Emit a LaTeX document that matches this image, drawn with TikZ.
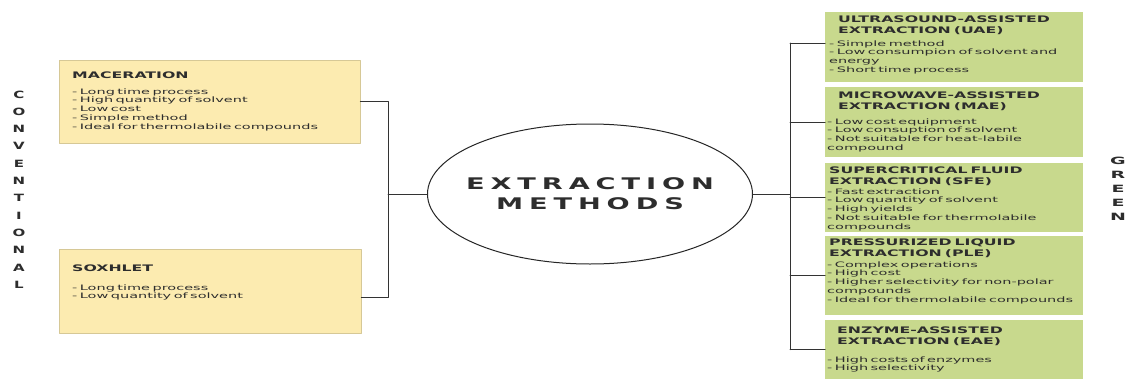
\documentclass[tikz,border=0pt]{standalone}
\usepackage{fontspec}
\usetikzlibrary{shapes.geometric}
\setmainfont{DejaVu Sans}
\newfontfamily\headfont[FakeStretch=1.75]{DejaVu Sans}
\newfontfamily\bodyfont[FakeStretch=1.93]{DejaVu Sans}
\newfontfamily\titlefont[FakeStretch=1.7,LetterSpace=37]{DejaVu Sans}
\newfontfamily\sidefont[FakeStretch=1.5]{DejaVu Sans}
\newfontfamily\greenfont[FakeStretch=1.9]{DejaVu Sans}
\definecolor{boxyellow}{RGB}{252,235,176}
\definecolor{boxgreen}{RGB}{200,217,141}
\definecolor{inkgray}{RGB}{45,45,45}
\begin{document}
\begin{tikzpicture}[x=1pt,y=-1pt,line join=round,line cap=round,
	link/.style={draw=black!80,line width=1pt},
	ybox/.style={fill=boxyellow,draw=boxyellow!85!black,line width=0.3pt,inner sep=0pt,anchor=north west},
	gbox/.style={fill=boxgreen,inner sep=0pt,anchor=north west,minimum width=258pt},
	head/.style={anchor=base west,inner sep=0pt,text width=270pt,align=left,text=inkgray,font=\headfont\bfseries\fontsize{9}{11}\selectfont},
	body/.style={anchor=base west,inner sep=0pt,text width=270pt,align=left,text=inkgray,font=\bodyfont\fontsize{7.5}{8.8}\selectfont},
	side/.style={anchor=base,inner sep=0pt,text width=24pt,align=center,text=inkgray,font=\sidefont\bfseries\fontsize{10}{17.3}\selectfont}]
	\useasboundingbox[fill=white] (0,0) rectangle (1127,380);
	% conventional methods
	\node[ybox,minimum width=301pt,minimum height=83pt] (mac) at (59,60) {};
	\node[ybox,minimum width=302pt,minimum height=84pt] (sox) at (59,249) {};
	\node[head] (mach) at (72,78) {MACERATION};
	\node[body] (macb) at (72,94) {- Long time process\\- High quantity of solvent\\- Low cost\\- Simple method\\- Ideal for thermolabile compounds};
	\node[head] (soxh) at (72,271) {SOXHLET};
	\node[body] (soxb) at (72,290) {- Long time process\\- Low quantity of solvent};
	\node[side] (conv) at (19,98) {C\\O\\N\\V\\E\\N\\T\\I\\O\\N\\A\\L};
	% centre
	\node[draw=black!85,line width=1pt,ellipse,minimum width=325pt,minimum height=140pt,inner sep=0pt] (em) at (590,194) {};
	\node[inner sep=0pt,text=inkgray,align=center,font=\titlefont\bfseries\fontsize{16}{20}\selectfont] (emt) at (em.center) {EXTRACTION\\METHODS};
	% green methods
	\node[gbox,minimum height=70pt] (uae) at (825,12) {};
	\node[gbox,minimum height=70pt] (mae) at (825,87) {};
	\node[gbox,minimum height=69pt] (sfe) at (825,163) {};
	\node[gbox,minimum height=79pt] (ple) at (825,236) {};
	\node[gbox,minimum height=59pt] (eae) at (825,320) {};
	\node[head] (uaeh) at (838,22) {ULTRASOUND-ASSISTED\\EXTRACTION (UAE)};
	\node[body] (uaeb) at (829,46) {- Simple method\\- Low consumpion of solvent and\\energy\\- Short time process};
	\node[head] (maeh) at (838,98) {MICROWAVE-ASSISTED\\EXTRACTION (MAE)};
	\node[body] (maeb) at (827,124) {- Low cost equipment\\- Low consuption of solvent\\- Not suitable for heat-labile\\compound};
	\node[head] (sfeh) at (829,173) {SUPERCRITICAL FLUID\\EXTRACTION (SFE)};
	\node[body] (sfeb) at (827,194) {- Fast extraction\\- Low quantity of solvent\\- High yields\\- Not suitable for thermolabile\\compounds};
	\node[head] (pleh) at (829,245) {PRESSURIZED LIQUID\\EXTRACTION (PLE)};
	\node[body] (pleb) at (827,267) {- Complex operations\\- High cost\\- Higher selectivity for non-polar\\compounds\\- Ideal for thermolabile compounds};
	\node[head] (eaeh) at (837,333) {ENZYME-ASSISTED\\EXTRACTION (EAE)};
	\node[body] (eaeb) at (827,362) {- High costs of enzymes\\- High selectivity};
	\node[side,font=\greenfont\bfseries\fontsize{10}{14.2}\selectfont] (green) at (1118,164) {G\\R\\E\\E\\N};
	% connectors
	\coordinate (lbar) at (388,194);
	\coordinate (soxt) at ([yshift=-6pt]sox.east);
	\draw[link] (mac.east) -- (mac.east -| lbar) -- (soxt -| lbar) -- (soxt);
	\draw[link] (lbar) -- (em.west);
	\coordinate (rbar) at (790,194);
	\coordinate (uaet) at ([yshift=4pt]uae.west);
	\draw[link] (em.east) -- (rbar);
	\draw[link] (uaet -| rbar) -- (eae.west -| rbar);
	\draw[link] (uaet) -- (uaet -| rbar);
	\foreach \b in {mae,sfe,ple,eae}
		\draw[link] (\b.west) -- (\b.west -| rbar);
\end{tikzpicture}
\end{document}
